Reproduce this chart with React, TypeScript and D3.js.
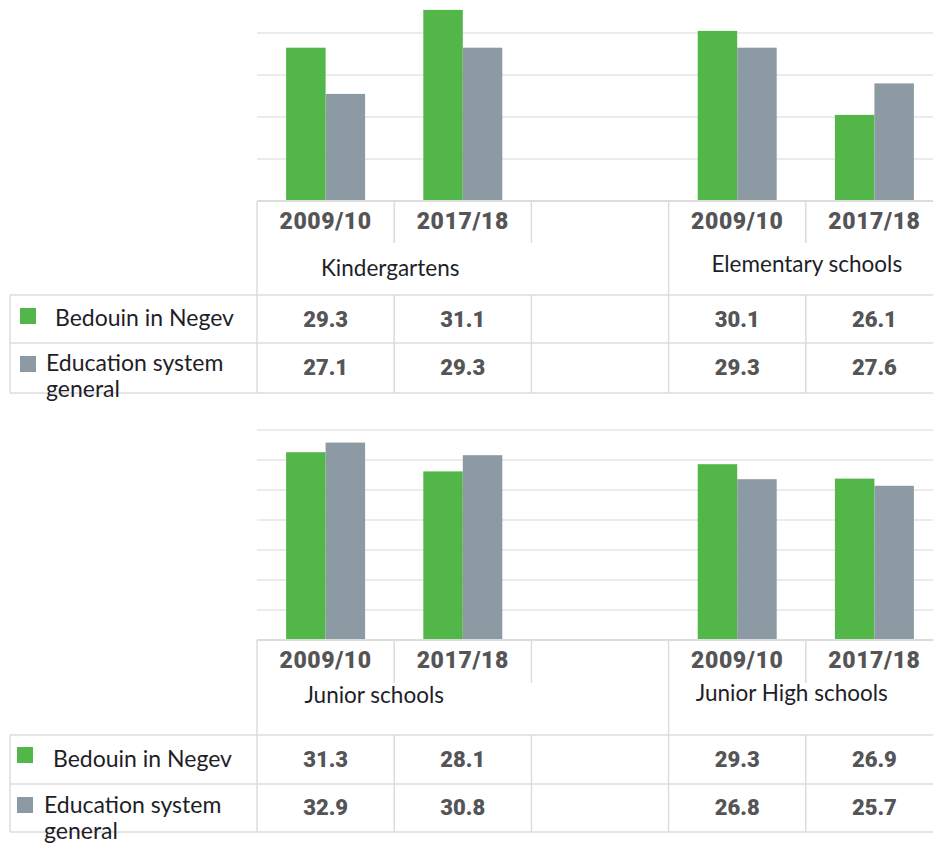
import * as d3 from "d3";

// categories / series
const years = ["2009/10", "2017/18"];
const seriesLines = [["Bedouin in Negev"], ["Education system", "general"]];
const seriesNames = seriesLines.map((l) => l.join(" "));
const seriesColors = ["#52b748", "#8c9aa3"];

const topGroups = ["Kindergartens", "Elementary schools"];
const bottomGroups = ["Junior schools", "Junior High schools"];

// values per year (2009/10, 2017/18)
const kindergartensBedouin = [29.3, 31.1];
const kindergartensGeneral = [27.1, 29.3];
const elementaryBedouin = [30.1, 26.1];
const elementaryGeneral = [29.3, 27.6];
const juniorBedouin = [31.3, 28.1];
const juniorGeneral = [32.9, 30.8];
const juniorHighBedouin = [29.3, 26.9];
const juniorHighGeneral = [26.8, 25.7];

// axis settings
const topDomain = [22, 32];
const topTicks = [24, 26, 28, 30];
const bottomDomain = [0, 35];
const bottomTicks = [5, 10, 15, 20, 25, 30, 35];

const W = 933;
const H = 845;
const LEFT = 257;
const RIGHT = 943;
const gridColor = "#e4e4e4";
const lineColor = "#dcdcdc";
const numColor = "#555557";
const textColor = "#1e1e28";
const numFont = "Roboto, 'Liberation Sans', sans-serif";
const labelFont = "Lato, 'Open Sans', sans-serif";

interface PanelLayout {
  range: [number, number];
  yearBottom: number;
  yearBaseline: number;
  catBaselines: number[];
  catDx: number[];
  hLines: number[];
  valueBaselines: number[];
  squareX: number;
  squareY: number[];
  textX: number[];
  textBaselines: number[];
  lineGap: number;
}

interface PanelProps {
  groups: string[];
  values: number[][][]; // [group][series][year]
  domain: number[];
  ticks: number[];
  layout: PanelLayout;
}

const Panel = ({ groups, values, domain, ticks, layout }: PanelProps) => {
  const cols = ["0-0", "0-1", "gap", "1-0", "1-1"];
  const x = d3.scaleBand<string>().domain(cols).range([LEFT, RIGHT]);
  const inner = d3
    .scaleBand<string>()
    .domain(seriesNames)
    .range([0, x.bandwidth()])
    .paddingInner(0)
    .paddingOuter(0.737);
  const y = d3.scaleLinear().domain(domain).range(layout.range);
  const base = layout.range[0];
  const bounds = cols.map((c) => x(c) as number);
  const [hCat, hRow1, hRow2] = layout.hLines;

  return (
    <g>
      {/* gridlines */}
      {ticks.map((t) => (
        <line key={t} x1={LEFT} x2={W} y1={y(t)} y2={y(t)} stroke={gridColor} strokeWidth={1.6} />
      ))}

      {/* bars */}
      {groups.map((g, gi) =>
        years.map((yr, yi) =>
          seriesNames.map((s, si) => {
            const v = values[gi][si][yi];
            return (
              <rect
                key={`${g}-${yr}-${s}`}
                x={(x(`${gi}-${yi}`) as number) + (inner(s) as number)}
                y={y(v)}
                width={inner.bandwidth()}
                height={base - y(v)}
                fill={seriesColors[si]}
              />
            );
          })
        )
      )}

      {/* table lines */}
      <line x1={LEFT} x2={W} y1={base} y2={base} stroke={lineColor} strokeWidth={2} />
      {bounds.map((bx, i) => (
        <line key={"yv" + i} x1={bx} x2={bx} y1={base} y2={layout.yearBottom} stroke={lineColor} strokeWidth={1.5} />
      ))}
      {[bounds[0], bounds[3]].map((bx, i) => (
        <line key={"cv" + i} x1={bx} x2={bx} y1={layout.yearBottom} y2={hRow2} stroke={lineColor} strokeWidth={1.5} />
      ))}
      {[bounds[1], bounds[2], bounds[4]].map((bx, i) => (
        <line key={"rv" + i} x1={bx} x2={bx} y1={hCat} y2={hRow2} stroke={lineColor} strokeWidth={1.5} />
      ))}
      <line x1={10} x2={10} y1={hCat} y2={hRow2} stroke={lineColor} strokeWidth={1.5} />
      {[hCat, hRow1, hRow2].map((hy, i) => (
        <line key={"h" + i} x1={10} x2={W} y1={hy} y2={hy} stroke={lineColor} strokeWidth={1.5} />
      ))}

      {/* year labels */}
      {groups.map((g, gi) =>
        years.map((yr, yi) => (
          <text
            key={`yl-${g}-${yr}`}
            x={(x(`${gi}-${yi}`) as number) + x.bandwidth() / 2}
            y={layout.yearBaseline}
            textAnchor="middle"
            fontFamily={numFont}
            fontWeight={900}
            fontSize={23}
            letterSpacing={0.6}
            fill={numColor}
          >
            {yr}
          </text>
        ))
      )}

      {/* category labels */}
      {groups.map((g, gi) => (
        <text
          key={"cat" + g}
          x={(x(`${gi}-1`) as number) + layout.catDx[gi]}
          y={layout.catBaselines[gi]}
          textAnchor="middle"
          fontFamily={labelFont}
          fontSize={22.5}
          fill={textColor}
        >
          {g}
        </text>
      ))}

      {/* values */}
      {groups.map((g, gi) =>
        seriesNames.map((s, si) =>
          years.map((yr, yi) => (
            <text
              key={`v-${g}-${s}-${yr}`}
              x={(x(`${gi}-${yi}`) as number) + x.bandwidth() / 2}
              y={layout.valueBaselines[si]}
              textAnchor="middle"
              fontFamily={numFont}
              fontWeight={900}
              fontSize={22}
              fill={numColor}
            >
              {values[gi][si][yi].toFixed(1)}
            </text>
          ))
        )
      )}

      {/* legend cells */}
      {seriesLines.map((lines, si) => (
        <g key={"lg" + si}>
          <rect x={layout.squareX} y={layout.squareY[si]} width={16} height={16} fill={seriesColors[si]} />
          <text
            x={layout.textX[si]}
            y={layout.textBaselines[si]}
            fontFamily={labelFont}
            fontSize={23}
            fill={textColor}
          >
            {lines.map((ln, li) => (
              <tspan key={li} x={layout.textX[si]} dy={li === 0 ? 0 : layout.lineGap}>
                {ln}
              </tspan>
            ))}
          </text>
        </g>
      ))}
    </g>
  );
};

const topLayout: PanelLayout = {
  range: [201, -9],
  yearBottom: 243,
  yearBaseline: 229,
  catBaselines: [276, 272],
  catDx: [-4, 1],
  hLines: [295, 343, 393],
  valueBaselines: [327, 375],
  squareX: 20,
  squareY: [308, 356],
  textX: [55, 46],
  textBaselines: [326, 371],
  lineGap: 26,
};

const bottomLayout: PanelLayout = {
  range: [640, 430],
  yearBottom: 683,
  yearBaseline: 668,
  catBaselines: [703, 701],
  catDx: [-20, -14],
  hLines: [735, 784, 832],
  valueBaselines: [767, 815],
  squareX: 17,
  squareY: [747, 797],
  textX: [53, 44],
  textBaselines: [767, 813],
  lineGap: 26,
};

export default function App() {
  return (
    <div style={{ position: "absolute", left: 0, top: 0 }}>
      <svg width={W} height={H} style={{ display: "block", background: "#fff" }}>
        <Panel
          groups={topGroups}
          values={[
            [kindergartensBedouin, kindergartensGeneral],
            [elementaryBedouin, elementaryGeneral],
          ]}
          domain={topDomain}
          ticks={topTicks}
          layout={topLayout}
        />
        <Panel
          groups={bottomGroups}
          values={[
            [juniorBedouin, juniorGeneral],
            [juniorHighBedouin, juniorHighGeneral],
          ]}
          domain={bottomDomain}
          ticks={bottomTicks}
          layout={bottomLayout}
        />
      </svg>
    </div>
  );
}
